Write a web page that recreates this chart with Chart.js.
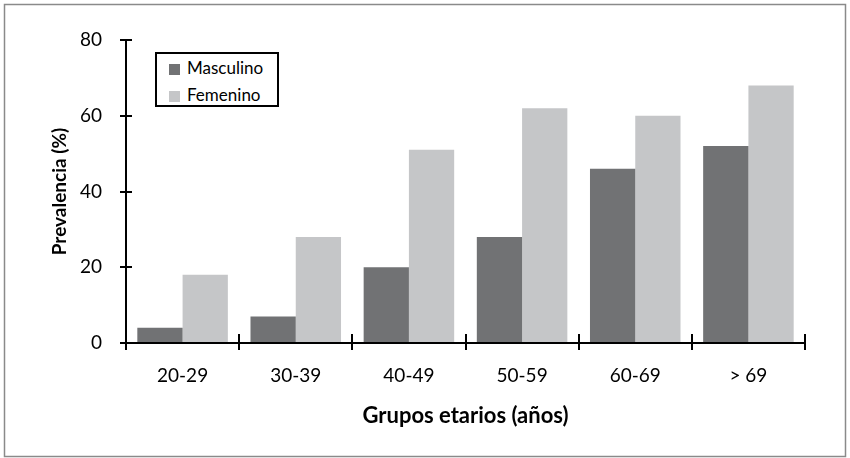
<!DOCTYPE html>
<html>
<head>
<meta charset="utf-8">
<script src="https://cdn.jsdelivr.net/npm/chart.js@4.4.1/dist/chart.umd.min.js"></script>
<style>
  body { margin: 0; background: #fff; }
  #wrap { position: relative; width: 850px; height: 458px; }
  #legend {
    position: absolute; left: 155px; top: 52px; width: 120px; height: 51px;
    border: 2px solid #000; background: #fff;
    font-family: Lato, "Open Sans", sans-serif; font-size: 17px; color: #000;
  }
  #legend div { position: absolute; left: 12px; height: 20px; line-height: 20px; }
  #legend span { display: inline-block; width: 11px; height: 11px; margin-right: 7px; vertical-align: -1px; }
</style>
</head>
<body>
<div id="wrap">
  <canvas id="chart" width="850" height="458"></canvas>
  <div id="legend"></div>
</div>
<script>
var categorias = ['20-29', '30-39', '40-49', '50-59', '60-69', '> 69'];
var masculino = [4, 7, 20, 28, 46, 52];
var femenino = [18, 28, 51, 62, 60, 68];
var colorMasc = '#717274';
var colorFem = '#c5c6c8';

// legend box (html, sits inside the plot)
var leg = document.getElementById('legend');
leg.innerHTML =
  '<div style="top:4px"><span style="background:' + colorMasc + '"></span>Masculino</div>' +
  '<div style="top:31px"><span style="background:' + colorFem + '"></span>Femenino</div>';

// grey frame + crossing tick marks
var extras = {
  id: 'extras',
  beforeDraw: function (chart) {
    var ctx = chart.ctx;
    ctx.save();
    ctx.strokeStyle = '#8a8a8a';
    ctx.lineWidth = 1.5;
    ctx.strokeRect(4.5, 4.5, 841, 452);
    ctx.restore();
  },
  afterDraw: function (chart) {
    var ctx = chart.ctx, area = chart.chartArea;
    var xs = chart.scales.x, ys = chart.scales.y;
    ctx.save();
    ctx.strokeStyle = '#000';
    ctx.lineWidth = 2;
    ctx.beginPath();
    ys.ticks.forEach(function (t) {
      var py = Math.round(ys.getPixelForValue(t.value));
      ctx.moveTo(area.left - 6, py);
      ctx.lineTo(area.left + 6, py);
    });
    var w = xs.getPixelForValue(1) - xs.getPixelForValue(0);
    for (var i = 0; i <= categorias.length; i++) {
      var px = Math.round(xs.getPixelForValue(i) - w / 2);
      ctx.moveTo(px, area.bottom - 9);
      ctx.lineTo(px, area.bottom + 7);
    }
    ctx.stroke();
    ctx.restore();
  }
};

var ctx = document.getElementById('chart').getContext('2d');
var chart = new Chart(ctx, {
  type: 'bar',
  data: {
    labels: categorias,
    datasets: [
      { label: 'Masculino', data: masculino, backgroundColor: colorMasc },
      { label: 'Femenino', data: femenino, backgroundColor: colorFem }
    ]
  },
  options: {
    responsive: false,
    animation: false,
    layout: { padding: { top: 40, right: 45, bottom: 0, left: 0 } },
    datasets: { bar: { categoryPercentage: 0.8, barPercentage: 1.0 } },
    plugins: { legend: { display: false }, tooltip: { enabled: false } },
    scales: {
      x: {
        grid: { display: false },
        border: { display: true, color: '#000', width: 2, z: 1 },
        ticks: { color: '#000', padding: 13, font: { family: 'Lato', size: 19 } },
        title: {
          display: true, text: 'Grupos etarios (años)', color: '#000',
          font: { family: 'Lato', size: 22, weight: 'bold' },
          padding: { top: 29, bottom: 29 }
        },
        afterFit: function (s) { s.height = 115; }
      },
      y: {
        min: 0, max: 80,
        grid: { display: false },
        border: { display: true, color: '#000', width: 2, z: 1 },
        ticks: { stepSize: 20, color: '#000', padding: 16, font: { family: 'Lato', size: 19 } },
        title: {
          display: true, text: 'Prevalencia (%)', color: '#000',
          font: { family: 'Lato', size: 19, weight: 'bold' },
          padding: { top: 48, bottom: 48 }
        },
        afterFit: function (s) { s.width = 126; }
      }
    }
  },
  plugins: [extras]
});
</script>
</body>
</html>
